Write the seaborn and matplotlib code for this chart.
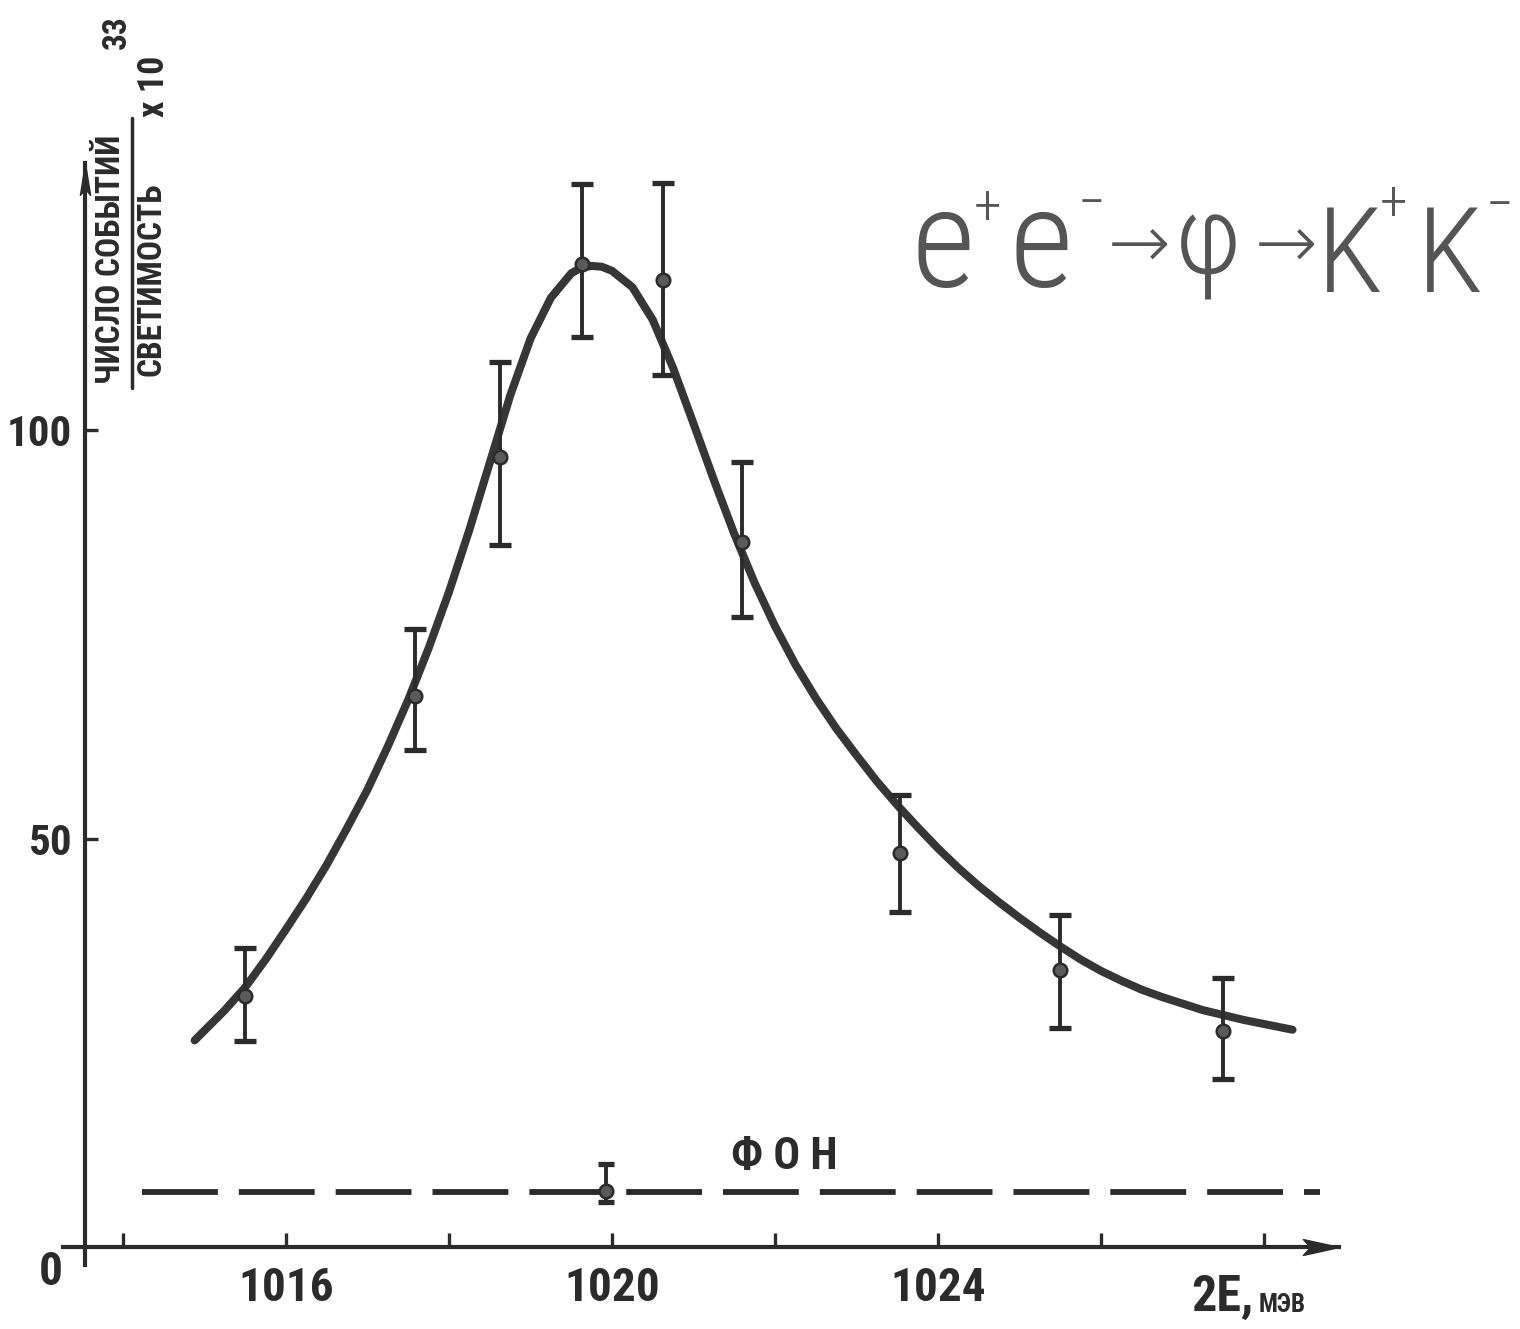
# phi-meson peak in e+e- -> K+K- (scan of an old plot)

import numpy as np
import pandas as pd
import matplotlib as mpl
mpl.use('Agg')
import matplotlib.pyplot as plt
from matplotlib.lines import Line2D
from matplotlib import font_manager
import seaborn as sns

# Measured points: 2E (MeV) vs events / luminosity x 10^33
energy = [1015.50, 1017.58, 1018.63, 1019.63, 1020.63, 1021.60, 1023.53, 1025.50, 1027.50]
rate = [30.7, 67.4, 96.7, 120.3, 118.4, 86.3, 48.2, 33.9, 26.4]
err_low = [5.5, 6.6, 10.8, 8.9, 11.7, 9.2, 7.2, 7.1, 5.8]
err_high = [5.9, 8.2, 11.6, 9.8, 11.8, 9.8, 7.1, 6.7, 6.5]

# Fitted curve
fit_energy = [1014.88, 1015.00, 1015.25, 1015.50, 1015.75, 1016.00, 1016.25, 1016.50,
              1016.75, 1017.00, 1017.25, 1017.50, 1017.75, 1018.00, 1018.25, 1018.50,
              1018.75, 1019.00, 1019.25, 1019.50, 1019.625, 1019.75, 1019.875, 1020.00,
              1020.25, 1020.50, 1020.75, 1021.00, 1021.25, 1021.50, 1021.75, 1022.00,
              1022.25, 1022.50, 1022.75, 1023.00, 1023.25, 1023.50, 1023.75, 1024.00,
              1024.25, 1024.50, 1024.75, 1025.00, 1025.25, 1025.50, 1025.75, 1026.00,
              1026.25, 1026.50, 1026.75, 1027.00, 1027.25, 1027.50, 1027.75, 1028.00,
              1028.35]
fit_rate = [25.3, 26.5, 29.0, 31.8, 35.2, 38.9, 42.7, 46.8,
            51.3, 56.0, 61.3, 67.0, 73.3, 80.2, 87.8, 96.0,
            104.2, 111.2, 116.2, 119.2, 119.9, 120.1, 120.0, 119.5,
            117.5, 113.5, 107.6, 100.8, 93.9, 87.3, 81.3, 76.0,
            71.3, 67.2, 63.5, 60.2, 57.0, 54.1, 51.4, 48.8,
            46.4, 44.2, 42.2, 40.3, 38.5, 36.8, 35.2, 33.8,
            32.6, 31.5, 30.6, 29.8, 29.0, 28.4, 27.8, 27.3,
            26.6]

# Background ("фон")
bg_energy = [1019.93]
bg_rate = [6.9]
bg_err_low = [1.4]
bg_err_high = [3.3]
bg_line_energy = [1014.23, 1028.69]
bg_line_rate = [6.7, 6.7]

# Axis ticks
x_ticks = [1014, 1016, 1018, 1020, 1022, 1024, 1026, 1028]
x_tick_labels = ['', '1016', '', '1020', '', '1024', '', '']
y_ticks = [50, 100]
y_tick_labels = ['50', '100']

sns.set_theme(style='ticks')

# pick a condensed face if there is one
installed = {f.name for f in font_manager.fontManager.ttflist}
narrow = 'DejaVu Sans'
for name in ['Liberation Sans Narrow', 'Roboto Condensed', 'Open Sans Condensed']:
    if name in installed:
        narrow = name
        break
plt.rcParams['font.family'] = [narrow, 'DejaVu Sans']

ink = '#2b2b2b'
W, H = 1520, 1329


def fx(px):
    return px / W


def fy(py):
    return 1 - py / H


fig = plt.figure(figsize=(W / 100, H / 100), dpi=100)
fig.patch.set_facecolor('white')
ax = fig.add_axes([fx(63), fy(1265), (1339 - 63) / W, (1265 - 163) / H])
ax.set_facecolor('white')

# fitted curve
sns.lineplot(ax=ax, x=fit_energy, y=fit_rate, sort=False, estimator=None,
             color='#363636', linewidth=5.8, solid_capstyle='round',
             solid_joinstyle='round', zorder=3)

# background level
sns.lineplot(ax=ax, x=bg_line_energy, y=bg_line_rate, sort=False, estimator=None,
             color=ink, linewidth=4.2, linestyle=(0, (13, 3.6)), zorder=3)

# error bars + points
ax.errorbar(energy, rate, yerr=[err_low, err_high], fmt='none', ecolor=ink,
            elinewidth=2.8, capsize=8, capthick=3.8, zorder=4)
ax.errorbar(bg_energy, bg_rate, yerr=[bg_err_low, bg_err_high], fmt='none', ecolor=ink,
            elinewidth=2.8, capsize=6, capthick=3.8, zorder=4)
sns.scatterplot(ax=ax, x=energy + bg_energy, y=rate + bg_rate, s=95,
                color='#5a5a5a', edgecolor=ink, linewidth=1.8, zorder=5)

# axes: two arrows meeting near the origin
ax.set(xlim=(1013.264, 1028.92), ylim=(-2.2, 132.7), xlabel='', ylabel='')
for side in ['top', 'right']:
    ax.spines[side].set_visible(False)
ax.spines['left'].set_position(('data', 1013.53))
ax.spines['bottom'].set_position(('data', 0))
for side in ['left', 'bottom']:
    ax.spines[side].set_linewidth(3)
    ax.spines[side].set_color(ink)

arrow_right = [(0, 0), (-1, 0.22), (-0.8, 0), (-1, -0.22), (0, 0)]
arrow_up = [(0, 0), (0.16, -1), (0, -0.8), (-0.16, -1), (0, 0)]
ax.plot(1, 0, marker=arrow_right, markersize=52, color=ink,
        transform=ax.get_yaxis_transform(), clip_on=False)
ax.plot(1013.53, 1, marker=arrow_up, markersize=46, color=ink,
        transform=ax.get_xaxis_transform(), clip_on=False)

ax.set_xticks(x_ticks)
ax.set_xticklabels(x_tick_labels)
ax.set_yticks(y_ticks)
ax.set_yticklabels(y_tick_labels)
ax.tick_params(axis='x', direction='in', length=10, width=2.4, color=ink,
               pad=14, labelsize=34, labelcolor=ink)
ax.tick_params(axis='y', direction='in', length=9, width=2.4, color=ink,
               pad=9, labelsize=31, labelcolor=ink)
for lab in ax.get_xticklabels() + ax.get_yticklabels():
    lab.set_fontweight('bold')

ax.annotate('0', xy=(1013.53, 0), xytext=(-16, -2), textcoords='offset points',
            ha='right', va='top', fontsize=34, fontweight='bold', color=ink)

# x axis title at the arrow end
fig.text(fx(1191), fy(1311), '2E,', ha='left', va='baseline', fontsize=36,
         fontweight='bold', color=ink)
fig.text(fx(1259), fy(1312), 'МЭВ', ha='left', va='baseline', fontsize=18,
         fontweight='bold', color=ink)

# background label
ax.text(1022.11, 11.0, 'Ф О Н', ha='center', va='center', fontsize=32,
        fontweight='bold', color=ink)

# y axis title: fraction x 10^33, written upwards
fig.text(fx(111), fy(259), 'ЧИСЛО СОБЫТИЙ', rotation=90, ha='center', va='center',
         fontsize=24, fontweight='bold', color=ink)
fig.text(fx(151), fy(279), 'СВЕТИМОСТЬ', rotation=90, ha='center', va='center',
         fontsize=24, fontweight='bold', color=ink)
fig.add_artist(Line2D([fx(132), fx(132)], [fy(388), fy(118)], color=ink, linewidth=2.5))
fig.text(fx(154), fy(86), 'x 10', rotation=90, ha='center', va='center',
         fontsize=26, fontweight='bold', color=ink)
fig.text(fx(117), fy(32), '33', rotation=90, ha='center', va='center',
         fontsize=24, fontweight='bold', color=ink)

# reaction
grey = '#555555'
big = dict(color=grey, fontweight='light')
fig.text(fx(943), fy(287), 'e', ha='center', va='baseline', fontsize=100, **big)
fig.text(fx(988), fy(208), '+', ha='center', va='center', fontsize=40, **big)
fig.text(fx(1041), fy(287), 'e', ha='center', va='baseline', fontsize=100, **big)
fig.text(fx(1091), fy(205), '−', ha='center', va='center', fontsize=40, **big)
fig.text(fx(1139), fy(248), '→', ha='center', va='center', fontsize=54, **big)
fig.text(fx(1208), fy(247), 'φ', ha='center', va='center', fontsize=80, **big)
fig.text(fx(1286), fy(248), '→', ha='center', va='center', fontsize=54, **big)
fig.text(fx(1350), fy(292), 'K', ha='center', va='baseline', fontsize=86, **big)
fig.text(fx(1393), fy(205), '+', ha='center', va='center', fontsize=40, **big)
fig.text(fx(1450), fy(292), 'K', ha='center', va='baseline', fontsize=86, **big)
fig.text(fx(1499), fy(208), '−', ha='center', va='center', fontsize=40, **big)

fig.savefig('out.png', dpi=100)
plt.close()
